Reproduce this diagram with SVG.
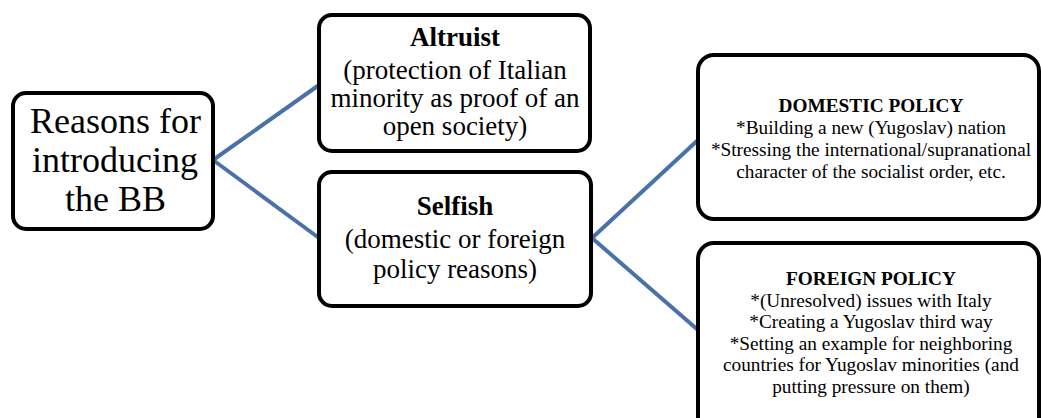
<svg xmlns="http://www.w3.org/2000/svg" width="1041" height="418" viewBox="0 0 1041 418">
<style>
.box{fill:#fff;stroke:#000;stroke-width:4}
.con{stroke:#4A72A8;stroke-width:4;fill:none}
</style>
<rect width="1041" height="418" fill="#fff"/>
<g id="connectors">
<line class="con" x1="213" y1="160" x2="319" y2="85"/>
<line class="con" x1="213" y1="160" x2="319" y2="238"/>
<line class="con" x1="592" y1="238" x2="698" y2="140"/>
<line class="con" x1="592" y1="238" x2="698" y2="330"/>
</g>
<g id="root">
<rect class="box" x="13" y="93" width="200" height="136" rx="13"/>
<g font-family="Liberation Serif" font-size="36px">
<text x="30" y="133">Reasons for</text>
<text x="32" y="172">introducing</text>
<text x="65" y="211">the BB</text>
</g>
</g>
<g id="altruist">
<rect class="box" x="319" y="15" width="271" height="136" rx="13"/>
<g font-family="Liberation Serif" font-size="27px" text-anchor="middle">
<text x="455" y="46" font-weight="bold">Altruist</text>
<text x="455" y="79">(protection of Italian</text>
<text x="455" y="107">minority as proof of an</text>
<text x="455" y="135">open society)</text>
</g>
</g>
<g id="selfish">
<rect class="box" x="319" y="172" width="272" height="134" rx="13"/>
<g font-family="Liberation Serif" font-size="27px" text-anchor="middle">
<text x="455" y="215" font-weight="bold">Selfish</text>
<text x="455" y="248">(domestic or foreign</text>
<text x="455" y="278">policy reasons)</text>
</g>
</g>
<g id="domestic">
<rect class="box" x="698" y="55" width="341" height="164" rx="16"/>
<g font-family="Liberation Serif" font-size="19.3px" text-anchor="middle">
<text x="871" y="112" font-weight="bold">DOMESTIC POLICY</text>
<text x="871" y="134">*Building a new (Yugoslav) nation</text>
<text x="871" y="156">*Stressing the international/supranational</text>
<text x="871" y="178">character of the socialist order, etc.</text>
</g>
</g>
<g id="foreign">
<rect class="box" x="698" y="243" width="341" height="190" rx="16"/>
<g font-family="Liberation Serif" font-size="19.3px" text-anchor="middle">
<text x="871" y="285" font-weight="bold">FOREIGN POLICY</text>
<text x="871" y="307">*(Unresolved) issues with Italy</text>
<text x="871" y="328">*Creating a Yugoslav third way</text>
<text x="871" y="350">*Setting an example for neighboring</text>
<text x="871" y="371">countries for Yugoslav minorities (and</text>
<text x="871" y="393">putting pressure on them)</text>
</g>
</g>
</svg>
